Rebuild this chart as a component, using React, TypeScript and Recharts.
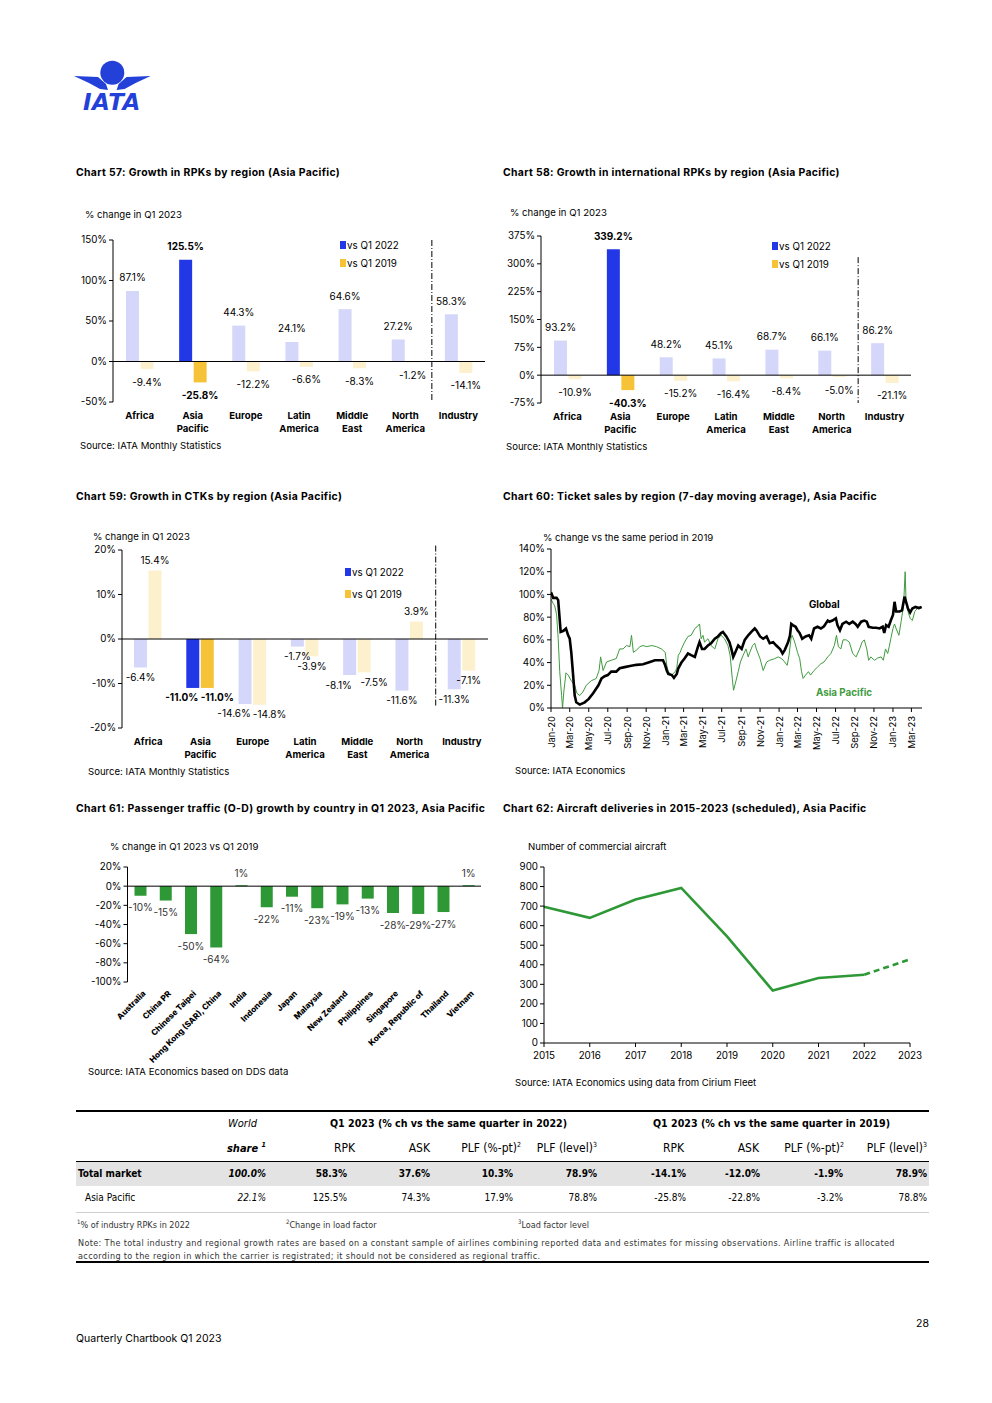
import React from "react";
import {
  BarChart,
  Bar,
  LineChart,
  Line,
  XAxis,
  YAxis,
  Cell,
  LabelList,
  ReferenceLine,
} from "recharts";

const FONT = "Inter, 'Noto Sans', sans-serif";
const NARROW = "'Liberation Sans Narrow', 'DejaVu Sans Condensed', sans-serif";

const BLUE = "#2238e6";
const BLUE_LIGHT = "#d4d7f9";
const YELLOW = "#f6c338";
const YELLOW_LIGHT = "#fdf0cd";
const GREEN = "#2e9836";
const GREEN_LINE = "#3f9b3f";

// ---- charts 57-59: regions
const regions = ["Africa", "Asia Pacific", "Europe", "Latin America", "Middle East", "North America", "Industry"];
const highlighted = "Asia Pacific";
const rpkVs2022 = [87.1, 125.5, 44.3, 24.1, 64.6, 27.2, 58.3];
const rpkVs2019 = [-9.4, -25.8, -12.2, -6.6, -8.3, -1.2, -14.1];
const intlRpkVs2022 = [93.2, 339.2, 48.2, 45.1, 68.7, 66.1, 86.2];
const intlRpkVs2019 = [-10.9, -40.3, -15.2, -16.4, -8.4, -5.0, -21.1];
const ctkVs2022 = [-6.4, -11.0, -14.6, -1.7, -8.1, -11.6, -11.3];
const ctkVs2019 = [15.4, -11.0, -14.8, -3.9, -7.5, 3.9, -7.1];
const seriesNames = ["vs Q1 2022", "vs Q1 2019"];

// ---- chart 60: ticket sales, % change vs 2019
const salesTicks = [
  "2020-01-01", "2020-03-01", "2020-05-01", "2020-07-01", "2020-09-01", "2020-11-01",
  "2021-01-01", "2021-03-01", "2021-05-01", "2021-07-01", "2021-09-01", "2021-11-01",
  "2022-01-01", "2022-03-01", "2022-05-01", "2022-07-01", "2022-09-01", "2022-11-01",
  "2023-01-01", "2023-03-01",
];
const globalDates = [
  "2020-01-01", "2020-01-08", "2020-01-19", "2020-01-24", "2020-02-01", "2020-02-10", "2020-02-18", "2020-02-25",
  "2020-03-01", "2020-03-06", "2020-03-11", "2020-03-17", "2020-03-22", "2020-04-02", "2020-04-18", "2020-05-01",
  "2020-05-15", "2020-06-01", "2020-06-11", "2020-06-21", "2020-07-01", "2020-07-12", "2020-07-28", "2020-08-08",
  "2020-08-24", "2020-09-10", "2020-10-01", "2020-10-22", "2020-11-13", "2020-11-29", "2020-12-15", "2020-12-25",
  "2021-01-01", "2021-01-06", "2021-01-11", "2021-01-22", "2021-01-29", "2021-02-07", "2021-02-12", "2021-02-22",
  "2021-03-04", "2021-03-15", "2021-03-25", "2021-04-06", "2021-04-16", "2021-04-21", "2021-04-29", "2021-05-07",
  "2021-05-18", "2021-05-28", "2021-06-09", "2021-06-19", "2021-06-29", "2021-07-05", "2021-07-16", "2021-07-26",
  "2021-08-01", "2021-08-07", "2021-08-12", "2021-08-23", "2021-09-03", "2021-09-13", "2021-09-24", "2021-10-04",
  "2021-10-15", "2021-10-20", "2021-11-01", "2021-11-11", "2021-11-22", "2021-12-02", "2021-12-13", "2021-12-23",
  "2022-01-04", "2022-01-12", "2022-01-19", "2022-01-30", "2022-02-05", "2022-02-09", "2022-02-14", "2022-02-23",
  "2022-03-01", "2022-03-08", "2022-03-16", "2022-03-27", "2022-04-07", "2022-04-14", "2022-04-23", "2022-05-04",
  "2022-05-15", "2022-05-25", "2022-06-06", "2022-06-11", "2022-06-21", "2022-07-02", "2022-07-07", "2022-07-15",
  "2022-07-23", "2022-08-04", "2022-08-14", "2022-08-25", "2022-09-03", "2022-09-10", "2022-09-21", "2022-10-01",
  "2022-10-09", "2022-10-15", "2022-10-28", "2022-11-08", "2022-11-19", "2022-11-29", "2022-12-04", "2022-12-10",
  "2022-12-18", "2022-12-25", "2023-01-01", "2023-01-06", "2023-01-11", "2023-01-22", "2023-01-30", "2023-02-07",
  "2023-02-12", "2023-02-18", "2023-02-25", "2023-03-04", "2023-03-14", "2023-03-25", "2023-04-03",
];
const globalSales = [
  102, 97, 97, 95, 67, 68, 70, 64,
  61, 49, 32, 11, 5, 3, 5, 8,
  13, 20, 26, 28, 29, 32, 32, 35,
  36, 37, 38, 38.5, 40.5, 42, 42, 42,
  37.6, 33, 30, 29, 26.5, 30, 35, 40,
  43.5, 48, 46.5, 45, 54, 58, 52, 52,
  55, 57, 61, 63, 66, 67, 63, 58,
  52, 45, 48, 55, 52, 60, 64, 67,
  70, 68.5, 63, 61, 63, 57, 58, 55,
  52, 48, 51, 58, 64, 74, 73, 71.5,
  68.5, 66, 61, 63, 64, 61, 70, 71.5,
  70, 72, 77, 76, 77, 79, 73, 68.5,
  74, 76, 74, 76, 74, 71.5, 76, 77,
  76, 71.5, 70.6, 70.6, 70, 71.5, 66, 73,
  71.5, 77, 82, 93.5, 85, 85, 86, 98,
  93.5, 87.6, 84, 87.6, 89, 88, 89,
];
const asiaDates = [
  "2020-01-01", "2020-01-08", "2020-01-13", "2020-01-19", "2020-01-24", "2020-01-29", "2020-02-04", "2020-02-07",
  "2020-02-11", "2020-02-18", "2020-02-25", "2020-03-06", "2020-03-17", "2020-03-24", "2020-04-02", "2020-04-12",
  "2020-04-23", "2020-05-09", "2020-05-25", "2020-06-03", "2020-06-08", "2020-06-16", "2020-06-27", "2020-07-12",
  "2020-07-28", "2020-08-08", "2020-08-19", "2020-08-30", "2020-09-10", "2020-09-15", "2020-09-21", "2020-10-01",
  "2020-10-12", "2020-10-22", "2020-11-02", "2020-11-19", "2020-12-04", "2020-12-20", "2021-01-01", "2021-01-06",
  "2021-01-11", "2021-01-22", "2021-02-02", "2021-02-07", "2021-02-12", "2021-02-18", "2021-02-22", "2021-03-04",
  "2021-03-15", "2021-03-25", "2021-04-06", "2021-04-13", "2021-04-21", "2021-04-26", "2021-05-02", "2021-05-07",
  "2021-05-18", "2021-05-28", "2021-06-09", "2021-06-19", "2021-06-29", "2021-07-10", "2021-07-21", "2021-07-28",
  "2021-08-04", "2021-08-08", "2021-08-15", "2021-08-23", "2021-08-30", "2021-09-08", "2021-09-17", "2021-09-24",
  "2021-09-29", "2021-10-08", "2021-10-15", "2021-10-20", "2021-11-01", "2021-11-11", "2021-11-22", "2021-12-02",
  "2021-12-18", "2021-12-29", "2022-01-09", "2022-01-19", "2022-01-27", "2022-02-02", "2022-02-08", "2022-02-12",
  "2022-02-20", "2022-03-01", "2022-03-08", "2022-03-14", "2022-03-19", "2022-03-27", "2022-04-05", "2022-04-12",
  "2022-04-23", "2022-05-04", "2022-05-15", "2022-05-25", "2022-06-06", "2022-06-16", "2022-06-27", "2022-07-04",
  "2022-07-10", "2022-07-18", "2022-07-25", "2022-08-04", "2022-08-14", "2022-08-25", "2022-09-05", "2022-09-16",
  "2022-09-24", "2022-10-01", "2022-10-09", "2022-10-15", "2022-10-22", "2022-11-03", "2022-11-13", "2022-11-24",
  "2022-12-01", "2022-12-08", "2022-12-15", "2022-12-20", "2022-12-25", "2023-01-01", "2023-01-06", "2023-01-11",
  "2023-01-20", "2023-01-27", "2023-02-04", "2023-02-09", "2023-02-12", "2023-02-18", "2023-02-25", "2023-03-04",
  "2023-03-12", "2023-03-20", "2023-03-30",
];
const asiaSales = [
  96, 92, 90, 82, 61, 32, 11, 0,
  14, 31, 29, 24, 20, 13, 11, 14,
  20, 24, 26, 33, 45, 33, 40.5, 42,
  43.5, 52, 52, 55, 54, 64, 49, 51,
  54, 55, 54, 55, 54, 52, 49, 37.6,
  32, 29, 32, 35, 46.5, 49, 52, 58,
  63, 64, 70, 71.5, 74, 61, 64, 58,
  61, 55, 52, 61, 64, 61, 55, 46.5,
  26, 15.6, 23, 32, 40.5, 46.5, 52, 45,
  49, 55, 57, 52, 43.5, 33, 40.5, 42,
  43.5, 45, 43.5, 40.5, 37.6, 46.5, 61, 64,
  58, 49, 43.5, 32, 26, 29, 32, 29,
  33, 36, 39, 40.5, 45, 48, 55, 64,
  54, 52, 60, 60, 58, 48, 45, 52,
  58, 60, 52, 42, 45, 42, 44, 45,
  42, 52, 48, 54, 61, 70, 74, 70,
  64, 76, 90.5, 120, 93.5, 85, 79, 77,
  85, 87.6, 89,
];

// ---- chart 61: O-D traffic by country
const countries = [
  "Australia", "China PR", "Chinese Taipei", "Hong Kong (SAR), China", "India", "Indonesia", "Japan",
  "Malaysia", "New Zealand", "Philippines", "Singapore", "Korea, Republic of", "Thailand", "Vietnam",
];
const odGrowth = [-10, -15, -50, -64, 1, -22, -11, -23, -19, -13, -28, -29, -27, 1];

// ---- chart 62: aircraft deliveries
const deliveryYears = [2015, 2016, 2017, 2018, 2019, 2020, 2021, 2022, 2023];
const deliveries = [697, 640, 734, 793, 545, 268, 332, 349, 428];
const lastActualYear = 2022;

// ---- table
const tableHead = ["RPK", "ASK", "PLF (%-pt)", "PLF (level)"];
const tableHeadSup = ["", "", "2", "3"];
const totalMarket = { share: "100.0%", vs2022: ["58.3%", "37.6%", "10.3%", "78.9%"], vs2019: ["-14.1%", "-12.0%", "-1.9%", "78.9%"] };
const asiaPacificRow = { share: "22.1%", vs2022: ["125.5%", "74.3%", "17.9%", "78.8%"], vs2019: ["-25.8%", "-22.8%", "-3.2%", "78.8%"] };

const MONTHS = ["Jan", "Feb", "Mar", "Apr", "May", "Jun", "Jul", "Aug", "Sep", "Oct", "Nov", "Dec"];
const toTime = (s: string) => Date.parse(s);
const fmtMonth = (t: number) => {
  const d = new Date(t);
  return `${MONTHS[d.getUTCMonth()]}-${String(d.getUTCFullYear()).slice(2)}`;
};

function Txt({ x, y, size = 9.5, bold, italic, color = "#000", right, family = FONT, spacing, children }: any) {
  const style: React.CSSProperties = {
    position: "absolute",
    top: y,
    transform: "translateY(-50%)",
    fontSize: size,
    fontWeight: bold ? 700 : 400,
    fontStyle: italic ? "italic" : "normal",
    color,
    lineHeight: 1,
    whiteSpace: "nowrap",
    fontFamily: family,
    letterSpacing: spacing,
  };
  if (right) style.right = 992 - x;
  else style.left = x;
  return <div style={style}>{children}</div>;
}

const Title = ({ x, y, children }: any) => (
  <Txt x={x} y={y} size={10.4} bold spacing={0.35}>{children}</Txt>
);

const barLabel = (
  gap: number,
  fmt: (v: number) => string,
  names: string[] | null,
  color = "#000",
  shift: (i: number) => number = () => 0,
) =>
  (props: any) => {
    const x = Number(props.x), y = Number(props.y), w = Number(props.width), h = Number(props.height);
    const v = Number(props.value);
    const top = Math.min(y, y + h);
    const bottom = Math.max(y, y + h);
    const cy = v < 0 ? bottom + gap : top - gap;
    const bold = names ? names[props.index] === highlighted : false;
    return (
      <text x={x + w / 2 + shift(props.index)} y={cy} dy="0.35em" textAnchor="middle" fontSize={10} fontFamily={FONT}
        fill={color} fontWeight={bold ? 700 : 400}>
        {fmt(v)}
      </text>
    );
  };

const RegionTick = ({ x, y, payload }: any) => {
  const words = String(payload.value).split(" ");
  return (
    <text x={x} y={y} textAnchor="middle" fontSize={9.6} fontWeight={700} fill="#000" fontFamily={FONT}>
      {words.map((w, i) => (
        <tspan key={i} x={x} dy={i === 0 ? 9 : 12.5}>{w}</tspan>
      ))}
    </text>
  );
};

function SeriesKey({ left, top, gap }: { left: number; top: number; gap: number }) {
  const colors = [BLUE, YELLOW];
  return (
    <div style={{ position: "absolute", left, top }}>
      {seriesNames.map((n, i) => (
        <div key={n} style={{ display: "flex", alignItems: "center", height: gap, fontSize: 9.8, fontFamily: FONT }}>
          <span style={{ display: "inline-block", width: 6, height: 8, background: colors[i], marginRight: 1 }} />
          {n}
        </div>
      ))}
    </div>
  );
}

type RegionProps = {
  left: number; top: number; width: number; height: number; yWidth: number; xHeight: number;
  domain: [number, number]; ticks: number[]; latest: number[]; base: number[]; sep: [number, number]; gap: number;
};

function RegionChart(p: RegionProps) {
  const data = regions.map((r, i) => ({ region: r, latest: p.latest[i], base: p.base[i] }));
  const fmt = (v: number) => `${v.toFixed(1)}%`;
  // labels of the two bars collide when both sit on the same side at almost the same depth
  const pxPerUnit = (p.height - 10 - p.xHeight) / (p.domain[1] - p.domain[0]);
  const clash = (i: number) =>
    Math.sign(p.latest[i]) === Math.sign(p.base[i]) && Math.abs(p.latest[i] - p.base[i]) * pxPerUnit < 8;
  return (
    <div style={{ position: "absolute", left: p.left, top: p.top }}>
      <BarChart width={p.width} height={p.height} data={data} margin={{ top: 10, right: 5, bottom: 0, left: 0 }}
        barSize={13} barGap={1.5}>
        <XAxis dataKey="region" axisLine={false} tickLine={false} interval={0} height={p.xHeight} tick={<RegionTick />} />
        <YAxis domain={p.domain} ticks={p.ticks} interval={0} width={p.yWidth} tickFormatter={(v) => `${v}%`}
          axisLine={{ stroke: "#000" }} tickLine={{ stroke: "#000" }} tickSize={4}
          tick={{ fontSize: 9.8, fill: "#000", fontFamily: FONT }} />
        <Bar dataKey="latest" name={seriesNames[0]} fill={BLUE} isAnimationActive={false}>
          {data.map((d) => (
            <Cell key={d.region} fill={d.region === highlighted ? BLUE : BLUE_LIGHT} />
          ))}
          <LabelList dataKey="latest" content={barLabel(p.gap, fmt, regions, "#000", (i) => (clash(i) ? -11 : 0))} />
        </Bar>
        <Bar dataKey="base" name={seriesNames[1]} fill={YELLOW} isAnimationActive={false}>
          {data.map((d) => (
            <Cell key={d.region} fill={d.region === highlighted ? YELLOW : YELLOW_LIGHT} />
          ))}
          <LabelList dataKey="base" content={barLabel(p.gap, fmt, regions, "#000", (i) => (clash(i) ? 10 : 0))} />
        </Bar>
        <ReferenceLine y={0} stroke="#000" strokeWidth={1} />
        <ReferenceLine segment={[{ x: "Industry", y: p.sep[0] }, { x: "Industry", y: p.sep[1] }]} position="start"
          stroke="#000" strokeWidth={1} strokeDasharray="6 2 1 2" ifOverflow="visible" />
      </BarChart>
    </div>
  );
}

const MonthTick = ({ x, y, payload }: any) => (
  <text x={x} y={y + 2} transform={`rotate(-90, ${x}, ${y + 2})`} textAnchor="end" dominantBaseline="central"
    fontSize={9.4} fill="#000" fontFamily={FONT}>
    {fmtMonth(payload.value)}
  </text>
);

function TicketSalesChart() {
  const globalData = globalDates.map((d, i) => ({ t: toTime(d), v: globalSales[i] }));
  const asiaData = asiaDates.map((d, i) => ({ t: toTime(d), v: asiaSales[i] }));
  return (
    <div style={{ position: "absolute", left: 505, top: 539 }}>
      <LineChart width={422} height={218} margin={{ top: 10, right: 5, bottom: 0, left: 0 }}>
        <XAxis dataKey="t" type="number" domain={[toTime("2020-01-01"), toTime("2023-04-04")]}
          ticks={salesTicks.map(toTime)} interval={0} height={49} tick={<MonthTick />}
          axisLine={{ stroke: "#000" }} tickLine={{ stroke: "#000" }} tickSize={4} allowDataOverflow />
        <YAxis domain={[0, 140]} ticks={[0, 20, 40, 60, 80, 100, 120, 140]} interval={0} width={46}
          tickFormatter={(v) => `${v}%`} axisLine={{ stroke: "#000" }} tickLine={{ stroke: "#000" }} tickSize={4}
          tick={{ fontSize: 9.8, fill: "#000", fontFamily: FONT }} />
        <Line data={asiaData} dataKey="v" type="linear" stroke={GREEN_LINE} strokeWidth={1} dot={false}
          isAnimationActive={false} />
        <Line data={globalData} dataKey="v" type="linear" stroke="#000" strokeWidth={2.6} dot={false}
          isAnimationActive={false} />
      </LineChart>
    </div>
  );
}

const CountryTick = ({ x, y, payload }: any) => {
  const ax = x + 4, ay = y + 2;
  return (
    <text x={ax} y={ay} transform={`rotate(-45, ${ax}, ${ay})`} textAnchor="end" dominantBaseline="central"
      fontSize={8.2} fontWeight={800} fill="#000" fontFamily={FONT}>
      {payload.value}
    </text>
  );
};

function CountryChart() {
  const data = countries.map((c, i) => ({ country: c, growth: odGrowth[i] }));
  return (
    <div style={{ position: "absolute", left: 75, top: 857 }}>
      <BarChart width={411} height={210} data={data} margin={{ top: 10, right: 5, bottom: 0, left: 0 }} barSize={12}>
        <XAxis dataKey="country" axisLine={false} tickLine={false} interval={0} height={85} tick={<CountryTick />} />
        <YAxis domain={[-100, 20]} ticks={[-100, -80, -60, -40, -20, 0, 20]} interval={0} width={52.5}
          tickFormatter={(v) => `${v}%`} axisLine={{ stroke: "#000" }} tickLine={{ stroke: "#000" }} tickSize={4}
          tick={{ fontSize: 9.8, fill: "#000", fontFamily: FONT }} />
        <Bar dataKey="growth" fill={GREEN} isAnimationActive={false}>
          <LabelList dataKey="growth" content={barLabel(12, (v) => `${v}%`, null, "#333")} />
        </Bar>
        <ReferenceLine y={0} stroke="#000" strokeWidth={1} />
      </BarChart>
    </div>
  );
}

function DeliveriesChart() {
  const data = deliveryYears.map((y, i) => ({
    year: y,
    actual: y <= lastActualYear ? deliveries[i] : null,
    scheduled: y >= lastActualYear ? deliveries[i] : null,
  }));
  return (
    <div style={{ position: "absolute", left: 500, top: 857 }}>
      <LineChart width={425} height={212} data={data} margin={{ top: 10, right: 15, bottom: 0, left: 0 }}>
        <XAxis dataKey="year" type="number" domain={[2015, 2023]} ticks={deliveryYears} interval={0} height={26}
          axisLine={{ stroke: "#000" }} tickLine={{ stroke: "#000" }} tickSize={4} tickMargin={5}
          tick={{ fontSize: 9.8, fill: "#000", fontFamily: FONT }} />
        <YAxis domain={[0, 900]} ticks={[0, 100, 200, 300, 400, 500, 600, 700, 800, 900]} interval={0} width={44}
          axisLine={{ stroke: "#000" }} tickLine={{ stroke: "#000" }} tickSize={4}
          tick={{ fontSize: 9.8, fill: "#000", fontFamily: FONT }} />
        <Line dataKey="actual" type="linear" stroke={GREEN} strokeWidth={2.6} dot={false} isAnimationActive={false} />
        <Line dataKey="scheduled" type="linear" stroke={GREEN} strokeWidth={2.6} strokeDasharray="6 4" dot={false}
          isAnimationActive={false} />
      </LineChart>
    </div>
  );
}

function Logo() {
  const c = "#2340d8";
  return (
    <svg style={{ position: "absolute", left: 70, top: 55 }} width={90} height={60}>
      <circle cx={42.3} cy={17.7} r={12} fill={c} />
      <polygon points="4,21 28,22 36,29 38,35 30,34 19,28" fill={c} />
      <polygon points="80.6,21 56.6,22 48.6,29 46.6,35 54.6,34 65.6,28" fill={c} />
      <text x={42} y={55} textAnchor="middle" fontSize={23} fontWeight={900} fontStyle="italic" fill={c}
        fontFamily="'DejaVu Sans', sans-serif" letterSpacing={0.5}>IATA</text>
    </svg>
  );
}

function DataTable() {
  const headRight = [355, 430, 521, 597, 684, 759, 844, 927];
  const valRight = [347, 430, 513, 597, 686, 760, 843, 927];
  const row = (r: typeof totalMarket, y: number, bold: boolean) => (
    <>
      <Txt x={266} y={y} size={10} bold={bold} italic right family={NARROW}>{r.share}</Txt>
      {[...r.vs2022, ...r.vs2019].map((v, i) => (
        <Txt key={i} x={valRight[i]} y={y} size={10} bold={bold} right family={NARROW}>{v}</Txt>
      ))}
    </>
  );
  return (
    <>
      <div style={{ position: "absolute", left: 76, top: 1110, width: 853, height: 2, background: "#000" }} />
      <Txt x={228} y={1123} size={11} italic family={NARROW}>World</Txt>
      <Txt x={330} y={1123} size={10.6} bold family={NARROW}>Q1 2023 (% ch vs the same quarter in 2022)</Txt>
      <Txt x={653} y={1123} size={10.6} bold family={NARROW}>Q1 2023 (% ch vs the same quarter in 2019)</Txt>
      <Txt x={266} y={1148} size={11} italic bold right family={NARROW}>share <sup style={{ fontSize: 7 }}>1</sup></Txt>
      {[...tableHead, ...tableHead].map((h, i) => (
        <Txt key={i} x={headRight[i]} y={1148} size={12} right family={NARROW}>
          {h}
          {tableHeadSup[i % 4] && <sup style={{ fontSize: 7 }}>{tableHeadSup[i % 4]}</sup>}
        </Txt>
      ))}
      <div style={{ position: "absolute", left: 76, top: 1161, width: 853, height: 1, background: "#000" }} />
      <div style={{ position: "absolute", left: 76, top: 1162, width: 853, height: 24, background: "#e3e3e3" }} />
      <Txt x={78} y={1174} size={10} bold family={NARROW}>Total market</Txt>
      {row(totalMarket, 1174, true)}
      <Txt x={85} y={1198} size={10} family={NARROW}>Asia Pacific</Txt>
      {row(asiaPacificRow, 1198, false)}
      <div style={{ position: "absolute", left: 76, top: 1212, width: 853, height: 1, background: "#cfcfcf" }} />
      <Txt x={77} y={1224} size={9} family={NARROW} color="#333"><sup style={{ fontSize: 6 }}>1</sup>% of industry RPKs in 2022</Txt>
      <Txt x={286} y={1224} size={9} family={NARROW} color="#333"><sup style={{ fontSize: 6 }}>2</sup>Change in load factor</Txt>
      <Txt x={518} y={1224} size={9} family={NARROW} color="#333"><sup style={{ fontSize: 6 }}>3</sup>Load factor level</Txt>
      <Txt x={78} y={1243} size={9} family={NARROW} color="#333" spacing={0.36}>
        Note: The total industry and regional growth rates are based on a constant sample of airlines combining reported data and estimates for missing observations. Airline traffic is allocated
      </Txt>
      <Txt x={78} y={1256} size={9} family={NARROW} color="#333" spacing={0.36}>
        according to the region in which the carrier is registrated; it should not be considered as regional traffic.
      </Txt>
      <div style={{ position: "absolute", left: 76, top: 1261, width: 853, height: 2, background: "#000" }} />
    </>
  );
}

export default function App() {
  return (
    <div style={{ position: "relative", width: 992, height: 1403, background: "#fff", fontFamily: FONT, color: "#000", overflow: "hidden" }}>
      <style>{"body{margin:0}"}</style>
      <Logo />

      <Title x={76} y={173}>Chart 57: Growth in RPKs by region (Asia Pacific)</Title>
      <Txt x={85} y={215} size={9.6}>% change in Q1 2023</Txt>
      <RegionChart left={70} top={230} width={420} height={210} yWidth={43} xHeight={38}
        domain={[-50, 150]} ticks={[-50, 0, 50, 100, 150]} latest={rpkVs2022} base={rpkVs2019} sep={[150, -48]} gap={13} />
      <SeriesKey left={340} top={236} gap={18} />
      <Txt x={80} y={446} size={9.6}>Source: IATA Monthly Statistics</Txt>

      <Title x={503} y={173}>Chart 58: Growth in international RPKs by region (Asia Pacific)</Title>
      <Txt x={510} y={213} size={9.6}>% change in Q1 2023</Txt>
      <RegionChart left={500} top={226} width={416} height={215} yWidth={41} xHeight={38}
        domain={[-75, 375]} ticks={[-75, 0, 75, 150, 225, 300, 375]} latest={intlRpkVs2022} base={intlRpkVs2019}
        sep={[318, -75]} gap={13} />
      <SeriesKey left={772} top={237} gap={18} />
      <Txt x={506} y={447} size={9.6}>Source: IATA Monthly Statistics</Txt>

      <Title x={76} y={497}>Chart 59: Growth in CTKs by region (Asia Pacific)</Title>
      <Txt x={93} y={537} size={9.6}>% change in Q1 2023</Txt>
      <RegionChart left={75} top={540} width={418} height={226} yWidth={47} xHeight={38}
        domain={[-20, 20]} ticks={[-20, -10, 0, 10, 20]} latest={ctkVs2022} base={ctkVs2019} sep={[21, -15]} gap={10} />
      <SeriesKey left={345} top={561} gap={22} />
      <Txt x={88} y={772} size={9.6}>Source: IATA Monthly Statistics</Txt>

      <Title x={503} y={497}>Chart 60: Ticket sales by region (7-day moving average), Asia Pacific</Title>
      <Txt x={543} y={538} size={9.6}>% change vs the same period in 2019</Txt>
      <TicketSalesChart />
      <Txt x={809} y={605} size={9.8} bold>Global</Txt>
      <Txt x={816} y={693} size={9.8} bold color={GREEN_LINE}>Asia Pacific</Txt>
      <Txt x={515} y={771} size={9.6}>Source: IATA Economics</Txt>

      <Title x={76} y={809}>Chart 61: Passenger traffic (O-D) growth by country in Q1 2023, Asia Pacific</Title>
      <Txt x={110} y={847} size={9.6}>% change in Q1 2023 vs Q1 2019</Txt>
      <CountryChart />
      <Txt x={88} y={1072} size={9.6}>Source: IATA Economics based on DDS data</Txt>

      <Title x={503} y={809}>Chart 62: Aircraft deliveries in 2015-2023 (scheduled), Asia Pacific</Title>
      <Txt x={528} y={847} size={9.6}>Number of commercial aircraft</Txt>
      <DeliveriesChart />
      <Txt x={515} y={1083} size={9.6}>Source: IATA Economics using data from Cirium Fleet</Txt>

      <DataTable />

      <Txt x={929} y={1324} size={10.5} right>28</Txt>
      <Txt x={76} y={1339} size={10.5}>Quarterly Chartbook Q1 2023</Txt>
    </div>
  );
}
